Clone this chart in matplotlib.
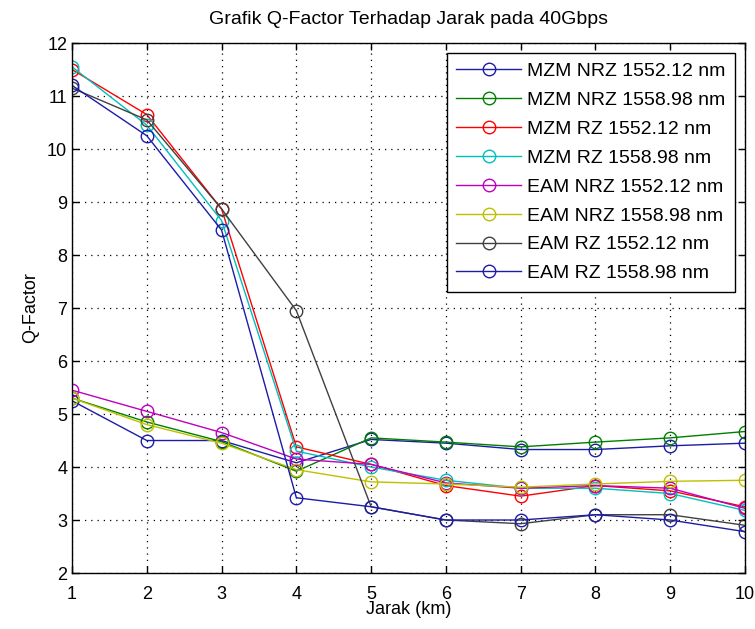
"""
Q-Factor vs distance at 40 Gbps, redrawn in matplotlib (MATLAB-like style).
"""
import matplotlib
matplotlib.use("Agg")
import matplotlib.pyplot as plt

# Data
jarak = [1, 2, 3, 4, 5, 6, 7, 8, 9, 10]

mzm_nrz_1552 = [5.25, 4.50, 4.50, 4.08, 4.52, 4.45, 4.33, 4.33, 4.40, 4.45]
mzm_nrz_1558 = [5.30, 4.85, 4.48, 3.92, 4.55, 4.47, 4.38, 4.47, 4.55, 4.67]
mzm_rz_1552 = [11.50, 10.65, 8.87, 4.38, 4.05, 3.65, 3.45, 3.65, 3.55, 3.25]
mzm_rz_1558 = [11.55, 10.45, 8.65, 4.30, 4.00, 3.75, 3.60, 3.60, 3.50, 3.18]
eam_nrz_1552 = [5.45, 5.05, 4.65, 4.15, 4.05, 3.70, 3.60, 3.65, 3.60, 3.22]
eam_nrz_1558 = [5.30, 4.80, 4.45, 3.95, 3.72, 3.68, 3.62, 3.68, 3.73, 3.75]
eam_rz_1552 = [11.15, 10.55, 8.87, 6.95, 3.25, 3.00, 2.93, 3.10, 3.10, 2.90]
eam_rz_1558 = [11.20, 10.25, 8.47, 3.42, 3.25, 3.00, 3.00, 3.10, 3.00, 2.78]

labels = [
    "MZM NRZ 1552.12 nm",
    "MZM NRZ 1558.98 nm",
    "MZM RZ 1552.12 nm",
    "MZM RZ 1558.98 nm",
    "EAM NRZ 1552.12 nm",
    "EAM NRZ 1558.98 nm",
    "EAM RZ 1552.12 nm",
    "EAM RZ 1558.98 nm",
]
series = [mzm_nrz_1552, mzm_nrz_1558, mzm_rz_1552, mzm_rz_1558,
          eam_nrz_1552, eam_nrz_1558, eam_rz_1552, eam_rz_1558]

# old MATLAB colour order
colors = ["#1c1ca8", "#008000", "#ff0000", "#00bfbf",
          "#bf00bf", "#bfbf00", "#404040", "#1c1ca8"]

plt.rcParams["font.family"] = ["Liberation Sans", "DejaVu Sans"]

fig = plt.figure(figsize=(7.55, 6.29), dpi=100)
ax = fig.add_axes([0.0954, 0.089, 0.8914, 0.8426])

for y, c, lab in zip(series, colors, labels):
    ax.plot(jarak, y, color=c, linewidth=1.0, marker="o", markersize=9,
            markerfacecolor="none", markeredgecolor=c, markeredgewidth=1.0,
            label=lab)

ax.set_xlim(1, 10)
ax.set_ylim(2, 12)
ax.set_xticks(range(1, 11))
ax.set_yticks(range(2, 13))
ax.tick_params(direction="in", length=5, top=True, right=True,
               labelsize=13, width=1)
ax.tick_params(axis="x", pad=9)
ax.grid(True, linestyle=(0, (1, 4)), color="black", linewidth=0.9)
for s in ax.spines.values():
    s.set_linewidth(1.0)

ax.set_title("Grafik Q-Factor Terhadap Jarak pada 40Gbps", fontsize=14, pad=14)
ax.set_xlabel("Jarak (km)", fontsize=13, labelpad=-1)
ax.set_ylabel("Q-Factor", fontsize=13, labelpad=6)

leg = ax.legend(loc="upper right", fontsize=14, handlelength=3.35,
                borderaxespad=0.5, labelspacing=0.58, fancybox=False,
                framealpha=1, edgecolor="black", borderpad=0.5,
                handletextpad=0.3)
leg.get_frame().set_linewidth(1.0)

fig.savefig("out.png", dpi=100)
